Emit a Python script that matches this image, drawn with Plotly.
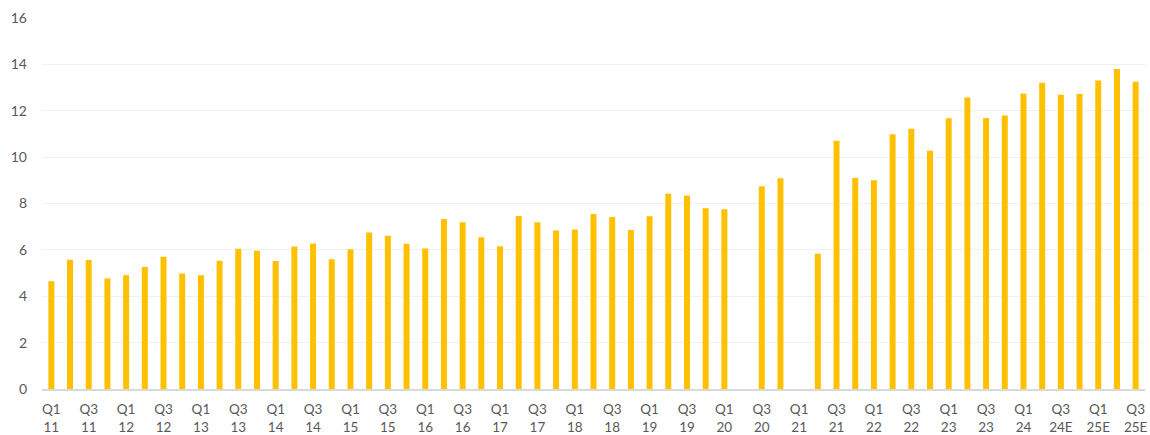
import plotly.graph_objects as go

# Quarterly series, Q1 2011 through Q3 2025 (estimates from Q3 2024 on)
quarters = []
for yr in range(11, 26):
    for q in range(1, 5):
        if yr == 25 and q == 4:
            break
        suffix = "E" if (yr == 24 and q >= 3) or yr == 25 else ""
        quarters.append(f"Q{q} {yr}{suffix}")

values = [
    4.65, 5.57, 5.56, 4.77,   # 2011
    4.91, 5.26, 5.70, 4.98,   # 2012
    4.91, 5.53, 6.05, 5.96,   # 2013
    5.52, 6.15, 6.28, 5.60,   # 2014
    6.03, 6.75, 6.61, 6.26,   # 2015
    6.06, 7.33, 7.19, 6.54,   # 2016
    6.16, 7.46, 7.19, 6.84,   # 2017
    6.88, 7.55, 7.42, 6.86,   # 2018
    7.45, 8.42, 8.34, 7.79,   # 2019
    7.75, None, 8.74, 9.09,   # 2020
    None, 5.83, 10.71, 9.10,  # 2021
    9.00, 10.99, 11.22, 10.27,  # 2022
    11.68, 12.57, 11.69, 11.79,  # 2023
    12.74, 13.21, 12.69, 12.72,  # 2024
    13.30, 13.80, 13.25,      # 2025
]

# Only Q1 and Q3 get a label, split over two lines
tick_vals = [c for c in quarters if c.startswith(("Q1", "Q3"))]
tick_text = [c.replace(" ", "<br>") for c in tick_vals]

y_ticks = list(range(0, 17, 2))

fig = go.Figure(
    go.Bar(
        x=quarters,
        y=values,
        marker=dict(color="#FFC000", line=dict(width=0)),
        hoverinfo="x+y",
    )
)

fig.update_layout(
    width=1150,
    height=435,
    margin=dict(l=42, r=5, t=18, b=46),
    paper_bgcolor="white",
    plot_bgcolor="white",
    bargap=0.68,
    showlegend=False,
    font=dict(family="Lato, 'Open Sans', sans-serif", size=14, color="#595959"),
)

fig.update_xaxes(
    type="category",
    categoryorder="array",
    categoryarray=quarters,
    tickmode="array",
    tickvals=tick_vals,
    ticktext=tick_text,
    tickangle=0,
    automargin=False,
    showgrid=False,
    showline=True,
    linecolor="#D9D9D9",
    linewidth=2,
    ticks="",
    ticklabelstandoff=7,
    tickfont=dict(size=13.5, color="#595959"),
)

fig.update_yaxes(
    range=[0, 16],
    tickmode="array",
    tickvals=y_ticks,
    automargin=False,
    showgrid=True,
    gridcolor="#F0F0F0",
    gridwidth=1,
    zeroline=False,
    showline=False,
    ticks="",
    ticklabelstandoff=14,
    tickfont=dict(size=14, color="#595959"),
)

fig.write_html("out.html")
